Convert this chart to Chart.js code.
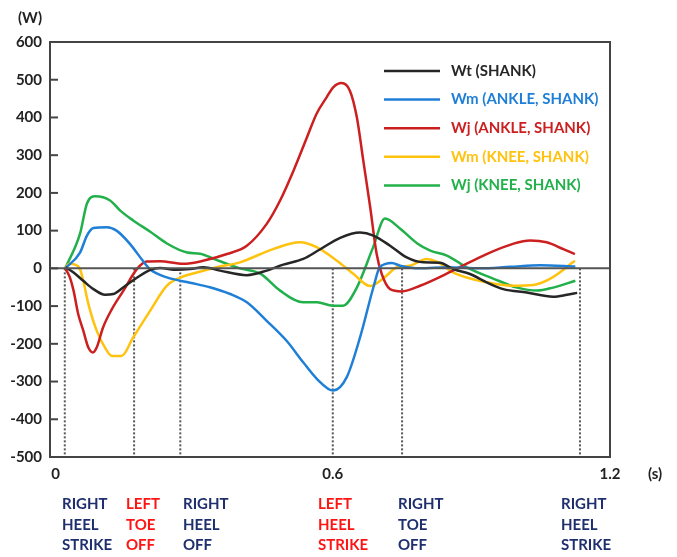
<!DOCTYPE html>
<html>
<head>
<meta charset="utf-8">
<script src="https://cdn.jsdelivr.net/npm/chart.js@4/dist/chart.umd.min.js"></script>
<style>
  html, body { margin: 0; padding: 0; background: #fff; }
  #c { display: block; }
</style>
</head>
<body>
<canvas id="c" width="677" height="557"></canvas>
<script>
// Shank power over one gait cycle (time in s, power in W)

const wtTime  = [0.022,0.039,0.060,0.082,0.107,0.125,0.147,0.176,0.205,0.226,0.262,0.291,0.320,0.356,0.414,0.457,0.493,0.536,0.572,0.616,0.659,0.688,0.724,0.760,0.796,0.832,0.861,0.897,0.933,0.969,1.020,1.077,1.107,1.129];
const wtPower = [3,-11,-33,-55,-70,-68,-50,-25,-4,1,-4,-2,3,-6,-18,-6,10,25,50,81,95,87,60,29,16,15,-2,-15,-37,-55,-64,-75,-70,-65];

const wmAnkleTime  = [0.021,0.053,0.068,0.082,0.111,0.132,0.161,0.189,0.205,0.241,0.291,0.334,0.378,0.414,0.457,0.500,0.536,0.565,0.601,0.630,0.659,0.688,0.702,0.728,0.746,0.789,0.847,0.919,0.984,1.049,1.125];
const wmAnklePower = [0,42,87,107,109,100,65,20,-3,-24,-38,-50,-68,-90,-139,-192,-249,-292,-324,-289,-183,-50,3,14,7,0,3,0,4,8,5];

const wjAnkleTime  = [0.022,0.031,0.039,0.049,0.060,0.071,0.081,0.089,0.103,0.122,0.147,0.176,0.197,0.226,0.276,0.319,0.371,0.414,0.457,0.486,0.515,0.544,0.565,0.587,0.601,0.619,0.637,0.652,0.666,0.681,0.695,0.706,0.724,0.749,0.789,0.860,0.933,0.990,1.027,1.063,1.099,1.124];
const wjAnklePower = [-2,-24,-59,-121,-165,-210,-223,-210,-156,-108,-59,-2,18,19,12,20,38,60,118,180,259,347,410,454,480,491,471,401,286,162,38,-15,-55,-61,-46,-6,38,65,74,69,51,38];

const wmKneeTime  = [0.020,0.030,0.042,0.053,0.060,0.071,0.089,0.107,0.122,0.143,0.168,0.205,0.241,0.269,0.306,0.349,0.399,0.471,0.529,0.565,0.609,0.645,0.681,0.711,0.739,0.767,0.803,0.825,0.861,0.933,0.991,1.034,1.070,1.124];
const wmKneePower = [0,12,10,-2,-33,-94,-165,-210,-232,-232,-183,-112,-46,-25,-11,3,16,51,69,56,20,-15,-47,-25,3,7,25,18,-11,-37,-46,-44,-28,20];

const wjKneeTime  = [0.021,0.053,0.068,0.086,0.118,0.140,0.168,0.205,0.241,0.285,0.313,0.341,0.399,0.443,0.486,0.536,0.566,0.600,0.622,0.652,0.687,0.713,0.746,0.783,0.811,0.847,0.891,0.947,0.999,1.042,1.077,1.125];
const wjKneePower = [0,92,172,191,180,153,127,97,66,42,39,26,0,-14,-59,-90,-90,-99,-99,-51,55,132,105,66,47,34,2,-27,-51,-59,-51,-33];

const seriesNames = ['Wt (SHANK)', 'Wm (ANKLE, SHANK)', 'Wj (ANKLE, SHANK)', 'Wm (KNEE, SHANK)', 'Wj (KNEE, SHANK)'];

// Gait events (s) and their captions
const eventTimes = [0.02, 0.17, 0.27, 0.60, 0.75, 1.135];
const eventCaptions = [
  ['RIGHT', 'HEEL', 'STRIKE'],
  ['LEFT', 'TOE', 'OFF'],
  ['RIGHT', 'HEEL', 'OFF'],
  ['LEFT', 'HEEL', 'STRIKE'],
  ['RIGHT', 'TOE', 'OFF'],
  ['RIGHT', 'HEEL', 'STRIKE']
];
const eventSide = ['right', 'left', 'right', 'left', 'right', 'right'];

const xTickValues = [0, 0.6, 1.2];
const xTickLabels = ['0', '0.6', '1.2'];
const yTickValues = [-500, -400, -300, -200, -100, 0, 100, 200, 300, 400, 500, 600];

// ---- presentation ----
const FONT = 'Lato, "Open Sans", sans-serif';
const seriesColors = ['#262626', '#1f7fd6', '#cc1f1f', '#ffc20e', '#22b04b'];
const captionColors = { right: '#1f2f6e', left: '#ff1414' };
const captionLeft = [62, 126, 183, 318, 398, 561];   // column x of each caption
const captionRows = [504, 525, 545];

const toPoints = (t, v) => t.map((ti, i) => ({ x: ti, y: v[i] }));

const curveSets = [
  [wtTime, wtPower], [wmAnkleTime, wmAnklePower], [wjAnkleTime, wjAnklePower],
  [wmKneeTime, wmKneePower], [wjKneeTime, wjKneePower]
].map(([t, v], i) => ({
  label: seriesNames[i],
  data: toPoints(t, v),
  borderColor: seriesColors[i],
  borderWidth: 2.5,
  pointRadius: 0,
  cubicInterpolationMode: 'monotone',
  fill: false
}));

const eventSets = eventTimes.map(t => ({
  label: '',
  data: [{ x: t, y: 0 }, { x: t, y: -500 }],
  borderColor: '#555',
  borderWidth: 2,
  borderDash: [2, 2],
  pointRadius: 0,
  fill: false,
  isEvent: true
}));

const decor = {
  id: 'decor',
  afterDatasetsDraw(chart) {
    const { ctx, chartArea: a, scales: { x, y } } = chart;
    ctx.save();
    // zero line
    const y0 = y.getPixelForValue(0);
    ctx.strokeStyle = '#555';
    ctx.lineWidth = 2;
    ctx.beginPath(); ctx.moveTo(a.left, y0); ctx.lineTo(a.right, y0); ctx.stroke();
    // inward y ticks
    ctx.strokeStyle = '#444';
    y.ticks.forEach(t => {
      const py = y.getPixelForValue(t.value);
      ctx.beginPath(); ctx.moveTo(a.left, py); ctx.lineTo(a.left + 8, py); ctx.stroke();
    });
    // frame
    ctx.strokeRect(a.left, a.top, a.right - a.left, a.bottom - a.top);

    // legend
    ctx.font = 'bold 15px ' + FONT;
    ctx.textBaseline = 'middle';
    ctx.textAlign = 'left';
    chart.data.datasets.forEach((ds, i) => {
      if (ds.isEvent) return;
      const ly = 71 + i * 28.6;
      ctx.strokeStyle = ds.borderColor;
      ctx.lineWidth = 2.5;
      ctx.beginPath(); ctx.moveTo(384, ly); ctx.lineTo(440, ly); ctx.stroke();
      ctx.fillStyle = ds.borderColor;
      ctx.fillText(ds.label, 451, ly);
    });

    // unit labels
    ctx.fillStyle = '#222';
    ctx.textAlign = 'center';
    ctx.fillText('(W)', 30, 18);
    ctx.fillText('(s)', 655, 474);

    // gait event captions
    ctx.textAlign = 'left';
    eventCaptions.forEach((lines, i) => {
      ctx.fillStyle = captionColors[eventSide[i]];
      lines.forEach((s, r) => ctx.fillText(s, captionLeft[i], captionRows[r]));
    });
    ctx.restore();
  }
};

new Chart(document.getElementById('c'), {
  type: 'line',
  data: { datasets: [...curveSets, ...eventSets] },
  options: {
    responsive: false,
    animation: false,
    layout: { padding: { left: 0, top: 42, right: 67, bottom: 0 } },
    plugins: { legend: { display: false }, tooltip: { enabled: false } },
    scales: {
      x: {
        type: 'linear',
        min: -0.012,
        max: 1.2,
        afterBuildTicks: s => { s.ticks = xTickValues.map(v => ({ value: v })); },
        afterFit: s => { s.height = 100; },
        ticks: {
          color: '#222',
          font: { family: FONT, size: 15, weight: 'bold' },
          padding: 8,
          maxRotation: 0,
          callback: v => xTickLabels[xTickValues.indexOf(v)]
        },
        grid: { display: false, drawTicks: false },
        border: { display: false }
      },
      y: {
        min: -500,
        max: 600,
        afterBuildTicks: s => { s.ticks = yTickValues.map(v => ({ value: v })); },
        afterFit: s => { s.width = 50; },
        ticks: {
          color: '#222',
          font: { family: FONT, size: 15, weight: 'bold' },
          padding: 8
        },
        grid: { display: false, drawTicks: false },
        border: { display: false }
      }
    }
  },
  plugins: [decor]
});
</script>
</body>
</html>
